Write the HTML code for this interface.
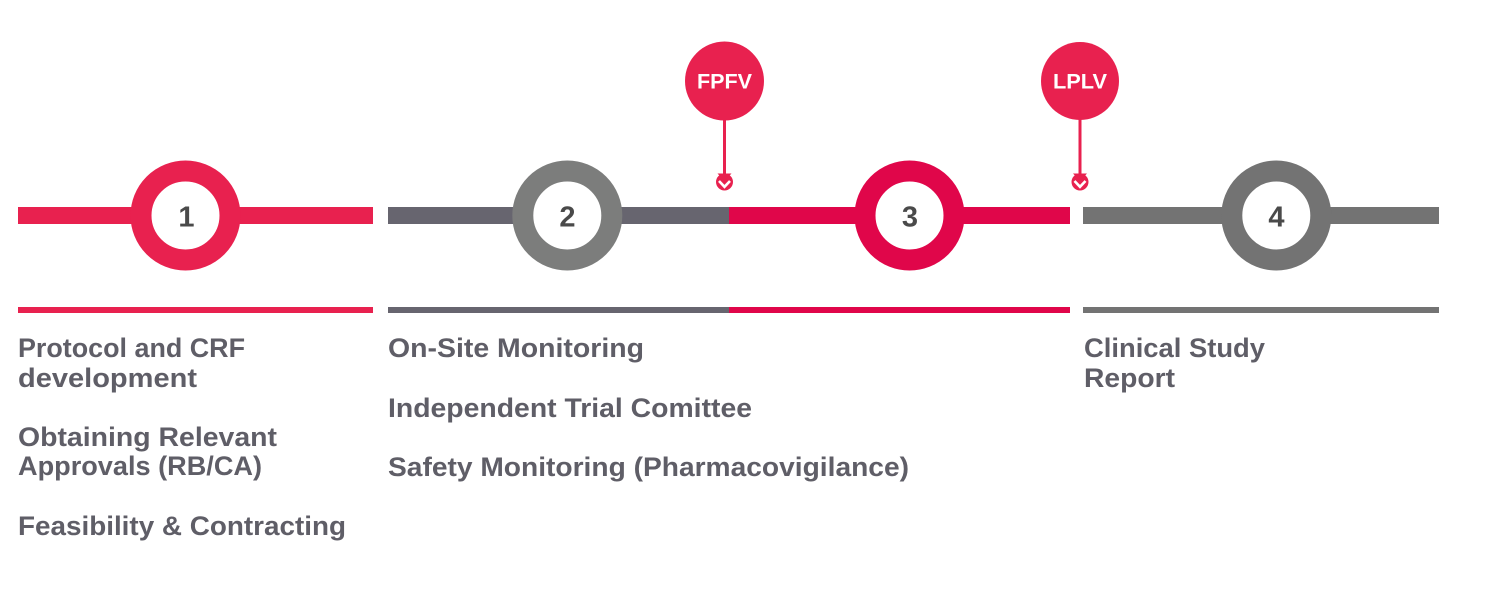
<!DOCTYPE html>
<html>
<head>
<meta charset="utf-8">
<style>
  html, body { margin:0; padding:0; background:#ffffff; }
  body { width:1486px; height:601px; overflow:hidden; }
  svg { display:block; }
  .lbl { font-family:"Liberation Sans", Arial, sans-serif; font-weight:bold; font-size:27px; fill:#5f5e67; }
  .dig { font-family:"Liberation Sans", Arial, sans-serif; font-weight:bold; font-size:29px; fill:#4a4a4a; }
  .pin { font-family:"Liberation Sans", Arial, sans-serif; font-weight:bold; font-size:21px; fill:#ffffff; }
</style>
</head>
<body>
<svg width="1486" height="601" viewBox="0 0 1486 601" xmlns="http://www.w3.org/2000/svg">
  <!-- thick bars -->
  <rect x="18" y="207" width="355" height="17" fill="#e8214f"/>
  <rect x="388" y="207" width="341" height="17" fill="#67656f"/>
  <rect x="729" y="207" width="341" height="17" fill="#e0064a"/>
  <rect x="1083" y="207" width="356" height="17" fill="#737373"/>

  <!-- thin lines -->
  <rect x="18" y="307" width="355" height="6" fill="#e8214f"/>
  <rect x="388" y="307" width="341" height="6" fill="#67656f"/>
  <rect x="729" y="307" width="341" height="6" fill="#e0064a"/>
  <rect x="1083" y="307" width="356" height="6" fill="#737373"/>

  <!-- ring nodes -->
  <circle cx="185.5" cy="215.5" r="44.5" fill="#ffffff" stroke="#e8214f" stroke-width="21"/>
  <circle cx="567.3" cy="215.5" r="44.5" fill="#ffffff" stroke="#7c7d7c" stroke-width="21"/>
  <circle cx="909.5" cy="215.5" r="44.5" fill="#ffffff" stroke="#e0064a" stroke-width="21"/>
  <circle cx="1276.3" cy="215.5" r="44.5" fill="#ffffff" stroke="#737373" stroke-width="21"/>

  <text class="dig" x="186.5" y="226.5" text-anchor="middle">1</text>
  <text class="dig" x="567.5" y="226.5" text-anchor="middle">2</text>
  <text class="dig" x="910" y="226.5" text-anchor="middle">3</text>
  <text class="dig" x="1276.5" y="226.5" text-anchor="middle">4</text>

  <!-- FPFV pin -->
  <rect x="723" y="110" width="3" height="68" fill="#e8214f"/>
  <circle cx="724.5" cy="81" r="39.5" fill="#e8214f"/>
  <text class="pin" x="697" y="88.5" textLength="55" lengthAdjust="spacingAndGlyphs">FPFV</text>
  <circle cx="724.5" cy="182" r="8.5" fill="#e8214f"/>
  <polygon points="717.5,173.5 731.5,173.5 724.5,181" fill="#e8214f"/>
  <polyline points="719,181 724.5,186.8 730,181" fill="none" stroke="#ffffff" stroke-width="2.6"/>

  <!-- LPLV pin -->
  <rect x="1078.5" y="110" width="3" height="68" fill="#e8214f"/>
  <circle cx="1080" cy="81" r="39" fill="#e8214f"/>
  <text class="pin" x="1053" y="88.5" textLength="54" lengthAdjust="spacingAndGlyphs">LPLV</text>
  <circle cx="1080" cy="182" r="8.5" fill="#e8214f"/>
  <polygon points="1073,173.5 1087,173.5 1080,181" fill="#e8214f"/>
  <polyline points="1074.5,181 1080,186.8 1085.5,181" fill="none" stroke="#ffffff" stroke-width="2.6"/>

  <!-- column 1 labels -->
  <text class="lbl" x="18" y="357" textLength="227" lengthAdjust="spacingAndGlyphs">Protocol and CRF</text>
  <text class="lbl" x="18" y="387" textLength="179" lengthAdjust="spacingAndGlyphs">development</text>
  <text class="lbl" x="18" y="446" textLength="259" lengthAdjust="spacingAndGlyphs">Obtaining Relevant</text>
  <text class="lbl" x="18" y="475" textLength="244" lengthAdjust="spacingAndGlyphs">Approvals (RB/CA)</text>
  <text class="lbl" x="18" y="535" textLength="328" lengthAdjust="spacingAndGlyphs">Feasibility &amp; Contracting</text>

  <!-- column 2 labels -->
  <text class="lbl" x="388" y="357" textLength="256" lengthAdjust="spacingAndGlyphs">On-Site Monitoring</text>
  <text class="lbl" x="388" y="417" textLength="364" lengthAdjust="spacingAndGlyphs">Independent Trial Comittee</text>
  <text class="lbl" x="388" y="476" textLength="521" lengthAdjust="spacingAndGlyphs">Safety Monitoring (Pharmacovigilance)</text>

  <!-- column 4 labels -->
  <text class="lbl" x="1084" y="357" textLength="181" lengthAdjust="spacingAndGlyphs">Clinical Study</text>
  <text class="lbl" x="1084" y="387" textLength="91" lengthAdjust="spacingAndGlyphs">Report</text>
</svg>
</body>
</html>
